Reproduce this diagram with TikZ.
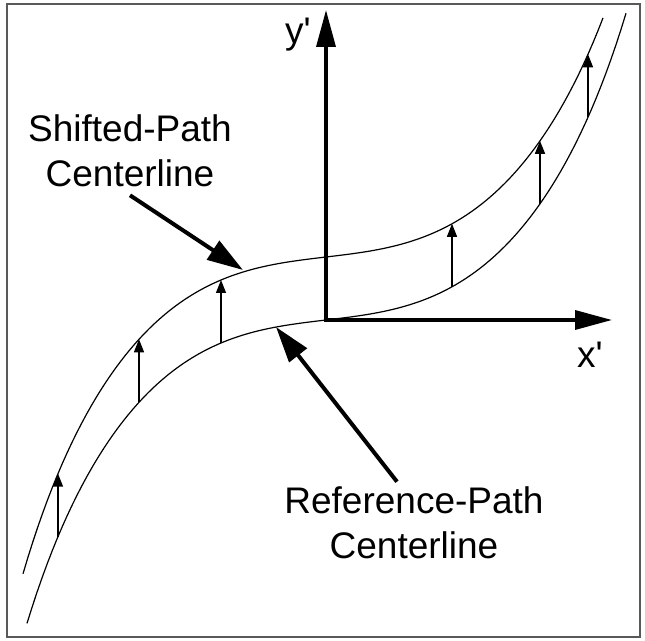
\documentclass[tikz,border=0pt]{standalone}
\usepackage{fontspec}
\setmainfont{Liberation Sans}
\usetikzlibrary{arrows.meta}

\tikzset{
  axis/.style={line width=3.5pt, {Triangle[length=37pt,width=19pt]}-{Triangle[length=37pt,width=19pt]}},
  pathline/.style={line width=1.2pt},
  shiftarrow/.style={line width=1.4pt, -{Triangle[length=13pt,width=10pt]}},
  callout/.style={line width=4pt, -{Triangle[length=36pt,width=22pt]}},
  lbl/.style={font=\fontsize{37}{45}\selectfont, align=center, inner sep=2pt},
}

\begin{document}
\begin{tikzpicture}[x=1pt,y=1pt,
    declare function={rp(\t)=35.4*\t+247.3*\t*\t*\t+24*\t*\t*\t*\t*\t*\t*\t*\t*\t;}]
  \useasboundingbox (-326,-320) rectangle (319,320);
  \draw[black!65, line width=2pt] (-319,316) rectangle (314,-317);

  % reference path and shifted path
  \draw[pathline] plot[domain=-299:300, samples=120] (\x, {rp(\x/300)});
  \draw[pathline] plot[domain=-303:277, samples=120] (\x, {rp(\x/300)+63});

  % shift offsets
  \foreach \d in {-268,-187,-105,126,214,262}
    \draw[shiftarrow] (\d, {rp(\d/300)}) -- (\d, {rp(\d/300)+63});

  % axes
  \coordinate (O) at (0,0);
  \coordinate (ytip) at (0,310);
  \coordinate (xtip) at (286,0);
  \draw[axis] (ytip) -- (O) -- (xtip);
  \node[lbl] (ylbl) at (-28,285) {y\textquotesingle};
  \node[lbl] (xlbl) at (264,-35) {x\textquotesingle};

  % callouts
  \node[lbl] (shifted) at (-196,169) {Shifted-Path\\Centerline};
  \node[lbl] (reference) at (88,-203) {Reference-Path\\Centerline};
  \coordinate (shiftedtip) at (-83,50);
  \coordinate (referencetip) at (-50,-7);
  \draw[callout] ([yshift=-6pt]shifted.south) -- (shiftedtip);
  \draw[callout] ([xshift=-17pt,yshift=3pt]reference.north) -- (referencetip);
\end{tikzpicture}
\end{document}
